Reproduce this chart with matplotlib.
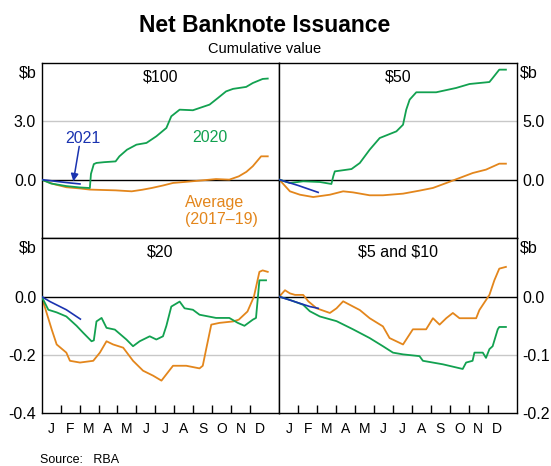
import matplotlib.pyplot as plt

plt.rcParams['font.family'] = ['Liberation Sans', 'DejaVu Sans']
plt.rcParams['text.parse_math'] = False

# colours
green = '#12a150'
orange = '#e3861c'
blue = '#1a33b0'

months = ['J', 'F', 'M', 'A', 'M', 'J', 'J', 'A', 'S', 'O', 'N', 'D']

# $100 ($b), x in months from start of year
x100_20 = [0, 0.5, 1.3, 2.0, 2.54, 2.6, 2.75, 2.89, 3.3, 3.9, 4.1, 4.5, 5.0, 5.53, 6.05, 6.58, 6.84, 7.28, 7.98, 8.86, 9.3, 9.73, 10.1, 10.79, 11.14, 11.66, 11.93]
y100_20 = [0, -0.2, -0.33, -0.4, -0.43, 0.3, 0.8, 0.86, 0.9, 0.94, 1.2, 1.54, 1.8, 1.89, 2.23, 2.66, 3.26, 3.6, 3.57, 3.86, 4.2, 4.54, 4.67, 4.77, 4.97, 5.18, 5.2]
x100_av = [0, 0.6, 1.3, 2.0, 2.54, 3.2, 3.9, 4.75, 5.3, 5.8, 6.4, 6.93, 8.33, 9.2, 9.9, 10.4, 10.8, 11.14, 11.58, 11.93]
y100_av = [0, -0.22, -0.39, -0.45, -0.51, -0.53, -0.55, -0.6, -0.52, -0.43, -0.3, -0.17, -0.05, 0.03, 0.0, 0.17, 0.4, 0.69, 1.2, 1.2]
x100_21 = [0, 0.7, 1.4, 2.02]
y100_21 = [0, -0.08, -0.16, -0.22]

# $50
x50_20 = [0, 0.56, 1.26, 2.14, 2.75, 2.85, 2.93, 3.81, 4.25, 4.77, 5.3, 6.18, 6.53, 6.7, 6.88, 7.23, 8.28, 9.33, 10.04, 11.09, 11.26, 11.61, 11.96]
y50_20 = [0, -0.29, -0.14, -0.2, -0.37, 0.3, 0.71, 0.91, 1.43, 2.57, 3.57, 4.14, 4.71, 6.0, 6.86, 7.49, 7.49, 7.86, 8.2, 8.37, 8.71, 9.43, 9.43]
x50_av = [0, 0.56, 1.09, 1.79, 2.67, 3.37, 3.89, 4.77, 5.47, 6.53, 7.4, 8.11, 8.81, 9.51, 10.21, 10.91, 11.61, 11.96]
y50_av = [0, -1.0, -1.29, -1.49, -1.29, -1.0, -1.09, -1.34, -1.34, -1.2, -0.94, -0.71, -0.29, 0.14, 0.57, 0.86, 1.37, 1.37]
x50_21 = [0, 1.0, 2.05]
y50_21 = [0, -0.5, -1.09]

# $20
x20_20 = [0, 0.35, 0.79, 1.3, 1.84, 2.19, 2.63, 2.75, 2.89, 3.16, 3.42, 3.86, 4.47, 4.82, 5.17, 5.7, 6.05, 6.4, 6.58, 6.84, 7.28, 7.54, 7.98, 8.33, 9.2, 9.9, 10.35, 10.7, 11.14, 11.31, 11.49, 11.84]
y20_20 = [0, -0.045, -0.054, -0.068, -0.10, -0.124, -0.153, -0.15, -0.085, -0.073, -0.107, -0.113, -0.147, -0.17, -0.153, -0.136, -0.147, -0.136, -0.10, -0.034, -0.017, -0.04, -0.045, -0.062, -0.073, -0.073, -0.09, -0.10, -0.079, -0.073, 0.056, 0.056]
x20_av = [0, 0.26, 0.53, 0.79, 1.3, 1.49, 2.02, 2.72, 3.07, 3.42, 3.77, 4.3, 4.82, 5.35, 5.88, 6.32, 6.93, 7.63, 8.33, 8.5, 8.68, 8.95, 9.38, 10.1, 10.4, 10.86, 11.2, 11.49, 11.66, 11.93]
y20_av = [0, -0.056, -0.113, -0.164, -0.192, -0.22, -0.226, -0.22, -0.192, -0.153, -0.164, -0.175, -0.22, -0.254, -0.271, -0.288, -0.237, -0.237, -0.246, -0.237, -0.18, -0.096, -0.09, -0.085, -0.079, -0.051, 0.0, 0.085, 0.09, 0.085]
x20_21 = [0, 0.44, 1.3, 2.04]
y20_21 = [0, -0.017, -0.045, -0.077]

# $5 and $10
x5_20 = [0, 0.56, 1.26, 1.61, 2.14, 3.02, 3.89, 4.77, 5.47, 6.0, 6.53, 7.4, 7.58, 8.63, 9.68, 9.86, 10.2, 10.3, 10.74, 10.91, 11.09, 11.26, 11.53, 11.61, 11.96]
y5_20 = [0, -0.0056, -0.014, -0.025, -0.034, -0.042, -0.056, -0.071, -0.085, -0.096, -0.099, -0.102, -0.11, -0.116, -0.124, -0.113, -0.11, -0.096, -0.096, -0.105, -0.09, -0.085, -0.056, -0.052, -0.052]
x5_av = [0, 0.3, 0.56, 0.83, 1.26, 1.53, 1.97, 2.67, 3.02, 3.37, 3.72, 4.25, 4.77, 5.47, 5.82, 6.53, 7.05, 7.75, 8.11, 8.46, 8.81, 9.16, 9.51, 10.04, 10.39, 10.56, 11.09, 11.35, 11.61, 11.96]
y5_av = [0, 0.011, 0.0056, 0.003, 0.003, -0.008, -0.02, -0.028, -0.02, -0.008, -0.014, -0.023, -0.037, -0.051, -0.071, -0.082, -0.056, -0.056, -0.037, -0.048, -0.037, -0.028, -0.037, -0.037, -0.037, -0.023, 0.003, 0.028, 0.048, 0.051]
x5_21 = [0, 1.61, 2.05]
y5_21 = [0, -0.017, -0.02]

fig = plt.figure(figsize=(5.51, 4.66), dpi=100)
W = 0.4312
L = 0.0757
panels = [
    # (left, bottom, title, ylim, ticks, labels, right side)
    (L, 0.4893, '$100', (-3, 6), [0, 3], ['0.0', '3.0'], False),
    (L + W, 0.4893, '$50', (-5, 10), [0, 5], ['0.0', '5.0'], True),
    (L, 0.1131, '$20', (-0.4, 0.2), [-0.4, -0.2, 0], ['-0.4', '-0.2', '0.0'], False),
    (L + W, 0.1131, '$5 and $10', (-0.2, 0.1), [-0.2, -0.1, 0], ['-0.2', '-0.1', '0.0'], True),
]
data = [
    (x100_20, y100_20, x100_av, y100_av, x100_21, y100_21),
    (x50_20, y50_20, x50_av, y50_av, x50_21, y50_21),
    (x20_20, y20_20, x20_av, y20_av, x20_21, y20_21),
    (x5_20, y5_20, x5_av, y5_av, x5_21, y5_21),
]

axes = []
for (left, bottom, title, ylim, ticks, labels, right), d in zip(panels, data):
    ax = fig.add_axes([left, bottom, W, 0.3755])
    axes.append(ax)
    ax.set_xlim(0, 12.54)
    ax.set_ylim(*ylim)
    for t in ticks:
        if t == 0:
            ax.axhline(0, color='black', lw=1, zorder=1)
        elif t != ylim[0]:
            ax.axhline(t, color='#c8c8c8', lw=1, zorder=0)
    ax.plot(d[2], d[3], color=orange, lw=1.3, zorder=2)
    ax.plot(d[0], d[1], color=green, lw=1.3, zorder=3)
    ax.plot(d[4], d[5], color=blue, lw=1.2, zorder=4)
    ax.set_yticks(ticks)
    ax.set_yticklabels(labels)
    ax.tick_params(axis='y', length=0, labelsize=11.5, pad=4)
    if right:
        ax.yaxis.tick_right()
    ax.text(0.5, 0.965, title, transform=ax.transAxes, ha='center', va='top', fontsize=11.5)
    ax.text(1.0 + 0.012 if right else -0.022, 0.985, '$b', transform=ax.transAxes,
            ha='left' if right else 'right', va='top', fontsize=11.5)
    ax.set_xticks(range(1, 12))
    ax.set_xticklabels([])
    ax.set_xticks([m + 0.5 for m in range(12)], minor=True)
    ax.set_xticklabels(months, minor=True)
    ax.tick_params(axis='x', which='major', direction='in', length=6, width=1)
    ax.tick_params(axis='x', which='minor', length=0, labelsize=10, pad=6)
    if bottom > 0.3:
        ax.tick_params(axis='x', which='both', labelbottom=False)
        ax.tick_params(axis='x', which='major', length=0)
    for s in ax.spines.values():
        s.set_linewidth(1)

ax = axes[0]
ax.text(2.18, 2.11, '2021', color=blue, ha='center', va='center', fontsize=11.5)
ax.text(8.88, 2.16, '2020', color=green, ha='center', va='center', fontsize=11.5)
ax.text(7.56, -1.6, 'Average\n(2017\u201319)', color=orange, ha='left', va='center', fontsize=11.5, linespacing=1.15)
ax.annotate('', xy=(1.67, -0.09), xytext=(1.98, 1.71),
            arrowprops=dict(arrowstyle='-|>', color=blue, lw=1.1, mutation_scale=11, shrinkA=0, shrinkB=0))

fig.text(265 / 551, 1 - 25 / 466, 'Net Banknote Issuance', ha='center', va='center', fontsize=16.5, fontweight='bold')
fig.text(265 / 551, 1 - 49 / 466, 'Cumulative value', ha='center', va='center', fontsize=10.5)
fig.text(40 / 551, 1 - 460 / 466, 'Source:   RBA', ha='left', va='center', fontsize=9)

fig.savefig('out.png', dpi=100)
